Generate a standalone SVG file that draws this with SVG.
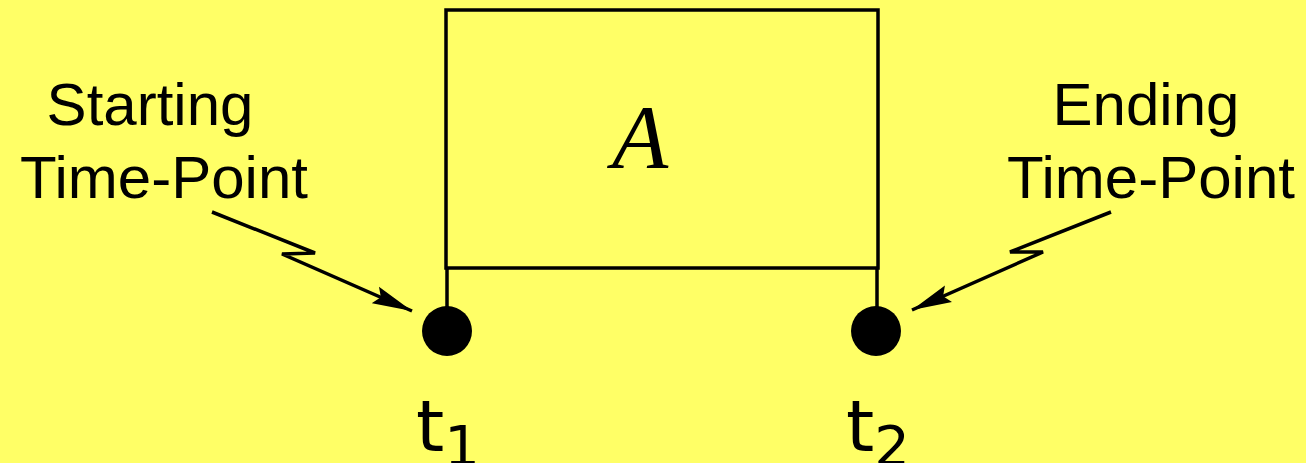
<svg xmlns="http://www.w3.org/2000/svg" width="1306" height="463" viewBox="0 0 1306 463">
<style>
.ln{fill:none;stroke:#000;stroke-width:3.5}
.lbl{font-family:"Liberation Sans",Arial,sans-serif;font-size:60px;fill:#000;text-anchor:middle}
.t{font-family:"DejaVu Sans",sans-serif;font-size:72px;fill:#000}
.sub{font-family:"DejaVu Sans",sans-serif;font-size:56px;fill:#000}
</style>
<defs>
<marker id="ah" viewBox="0 0 40 20" refX="40" refY="10" markerWidth="40" markerHeight="20" markerUnits="userSpaceOnUse" orient="auto">
<path d="M0,1 L40,10 L0,19 L6,10 Z" fill="#000"/>
</marker>
</defs>
<rect width="1306" height="463" fill="#ffff66"/>
<g id="activity">
<rect class="ln" x="446" y="10" width="432" height="258"/>
<text x="640" y="168" font-family="Liberation Serif,serif" font-style="italic" font-size="92" text-anchor="middle">A</text>
</g>
<g id="t1">
<line class="ln" x1="447" y1="268" x2="447" y2="320"/>
<circle cx="447" cy="331" r="25"/>
<text class="t" x="416" y="451">t<tspan class="sub" dy="14">1</tspan></text>
</g>
<g id="t2">
<line class="ln" x1="877" y1="268" x2="877" y2="320"/>
<circle cx="876" cy="331" r="25"/>
<text class="t" x="846" y="451">t<tspan class="sub" dy="14">2</tspan></text>
</g>
<g id="startLabel">
<text class="lbl" x="150" y="125">Starting</text>
<text class="lbl" x="164" y="198">Time-Point</text>
</g>
<g id="endLabel">
<text class="lbl" x="1146" y="125">Ending</text>
<text class="lbl" x="1151" y="198">Time-Point</text>
</g>
<g id="connectors">
<polyline class="ln" stroke-width="2.5" points="212,212 315,253 282,254 412,311" marker-end="url(#ah)"/>
<polyline class="ln" stroke-width="2.5" points="1111,212 1010,252 1043,252 912,310" marker-end="url(#ah)"/>
</g>
</svg>
